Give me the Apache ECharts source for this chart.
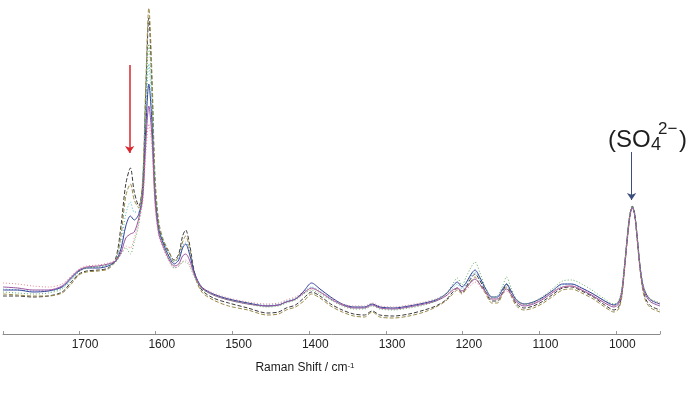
<!DOCTYPE html>
<html>
<head>
<meta charset="utf-8">
<style>
  html, body { margin:0; padding:0; background:#ffffff; }
  #raman-chart { width:700px; height:398px; }
</style>
</head>
<body>
<div id="raman-chart"></div>
<script src="https://cdn.jsdelivr.net/npm/echarts@6/dist/echarts.min.js"></script>
<script>
    // Raman shift (cm-1) sampled along the spectrum
    var wavenumbers = [1799, 1780, 1760, 1740, 1722, 1710, 1700, 1690, 1675, 1662,
        1652, 1645, 1639, 1633, 1628, 1622, 1617, 1613, 1609, 1605,
        1601, 1596, 1590, 1583, 1576, 1570, 1565, 1561, 1556, 1549,
        1540, 1525, 1505, 1480, 1455, 1440, 1430, 1418, 1407, 1397,
        1386, 1372, 1357, 1342, 1328, 1318, 1308, 1290, 1270, 1250,
        1235, 1222, 1213, 1207, 1201, 1195, 1189, 1184, 1178, 1170,
        1162, 1155, 1148, 1143, 1137, 1130, 1120, 1108, 1095, 1082,
        1070, 1058, 1045, 1030, 1015, 1003, 997, 993, 989, 985,
        982, 979, 976, 973, 969, 965, 961, 955, 943];

    // intensities (arbitrary units) of the overlaid spectra
    var spec1 = [38, 38, 37, 38, 42, 52, 60, 63, 64, 66,
        76, 110, 150, 166, 142, 128, 150, 240, 316, 250,
        150, 108, 92, 82, 74, 80, 98, 104, 90, 60,
        44, 36, 31, 26, 21, 22, 26, 29, 36, 42,
        38, 30, 24, 20, 19, 23, 19, 18, 20, 24,
        28, 34, 42, 46, 41, 48, 56, 60, 54, 42,
        33, 33, 42, 50, 40, 30, 26, 28, 33, 40,
        46, 47, 43, 37, 29, 24, 27, 38, 68, 100,
        120, 128, 120, 98, 66, 44, 34, 28, 24];
    var spec2 = [40, 39, 38, 38, 41, 50, 59, 62, 63, 65,
        74, 100, 138, 150, 134, 126, 155, 250, 326, 262,
        160, 112, 94, 83, 72, 78, 92, 98, 86, 58,
        42, 34, 28, 24, 19, 20, 24, 27, 33, 40,
        36, 28, 22, 18, 17, 22, 17, 16, 18, 22,
        27, 33, 40, 44, 40, 46, 53, 57, 50, 40,
        31, 31, 40, 47, 38, 28, 24, 26, 31, 38,
        44, 45, 41, 35, 27, 22, 25, 36, 66, 98,
        118, 127, 119, 96, 64, 42, 32, 26, 22];
    var spec3 = [45, 44, 43, 43, 46, 55, 63, 66, 67, 69,
        74, 92, 120, 132, 122, 122, 145, 215, 270, 225,
        145, 106, 92, 80, 72, 76, 88, 92, 82, 60,
        46, 40, 35, 31, 29, 30, 33, 36, 42, 47,
        43, 36, 30, 27, 27, 30, 27, 26, 28, 31,
        35, 40, 46, 50, 45, 50, 58, 62, 55, 44,
        36, 36, 44, 50, 42, 33, 29, 31, 36, 43,
        49, 50, 46, 40, 33, 29, 31, 42, 70, 102,
        121, 127, 120, 99, 67, 47, 38, 33, 30];
    var spec4 = [44, 44, 42, 43, 47, 56, 63, 66, 66, 68,
        73, 86, 108, 118, 114, 120, 140, 205, 250, 212,
        140, 104, 90, 78, 70, 74, 86, 90, 80, 60,
        47, 40, 35, 31, 28, 29, 32, 35, 43, 51,
        45, 37, 30, 27, 27, 30, 27, 26, 28, 31,
        34, 40, 48, 52, 47, 52, 60, 64, 57, 45,
        37, 37, 45, 50, 43, 34, 30, 32, 37, 44,
        50, 50, 46, 40, 33, 29, 32, 42, 70, 102,
        120, 127, 120, 100, 68, 48, 40, 34, 30];
    var spec5 = [47, 46, 44, 44, 48, 57, 64, 67, 68, 70,
        73, 82, 96, 100, 102, 116, 136, 190, 228, 198,
        134, 100, 87, 75, 68, 70, 78, 80, 74, 58,
        46, 39, 34, 30, 28, 29, 32, 35, 41, 46,
        42, 35, 29, 26, 26, 29, 26, 25, 27, 30,
        33, 38, 44, 46, 43, 47, 52, 55, 50, 42,
        35, 35, 41, 45, 40, 32, 28, 30, 35, 42,
        47, 48, 44, 38, 31, 27, 30, 40, 68, 100,
        119, 126, 119, 98, 66, 46, 38, 32, 28];
    var spec6 = [51, 50, 48, 47, 50, 58, 65, 68, 69, 71,
        74, 80, 88, 86, 96, 112, 132, 180, 210, 186,
        128, 98, 85, 73, 66, 68, 72, 74, 70, 57,
        47, 41, 36, 32, 30, 31, 34, 37, 42, 45,
        42, 36, 30, 28, 28, 31, 28, 27, 29, 32,
        35, 39, 44, 45, 42, 45, 49, 52, 48, 41,
        35, 35, 40, 43, 39, 33, 29, 31, 36, 43,
        47, 48, 45, 39, 32, 28, 31, 41, 69, 101,
        120, 127, 120, 99, 67, 47, 39, 34, 31];
    var spec7 = [42, 41, 40, 41, 45, 54, 62, 66, 67, 69,
        72, 80, 86, 80, 92, 110, 150, 230, 290, 240,
        150, 106, 90, 76, 66, 68, 72, 72, 68, 56,
        45, 39, 34, 30, 27, 28, 31, 34, 40, 44,
        40, 34, 28, 25, 25, 28, 25, 24, 26, 29,
        33, 40, 50, 56, 49, 58, 67, 72, 62, 46,
        37, 38, 48, 57, 46, 35, 30, 32, 38, 46,
        53, 54, 50, 43, 35, 30, 33, 44, 72, 104,
        122, 128, 121, 100, 68, 49, 41, 35, 31];

    var spectra = [spec1, spec2, spec3, spec4, spec5, spec6, spec7];

    var lineLooks = [
        {color: '#3a3a3a', type: [4, 2]},
        {color: '#9a8a48', type: [4, 2]},
        {color: '#4cbccc', type: [1, 2]},
        {color: '#34409a', type: 'solid'},
        {color: '#9a52a0', type: 'solid'},
        {color: '#e58592', type: [1, 2]},
        {color: '#62ac62', type: [1, 2]}
    ];

    var chart = echarts.init(document.getElementById('raman-chart'));

    var seriesList = [];
    for (var i = 0; i < spectra.length; i++) {
        var pts = [];
        for (var j = 0; j < wavenumbers.length; j++) {
            pts.push([wavenumbers[j], spectra[i][j]]);
        }
        seriesList.push({
            type: 'line',
            data: pts,
            smooth: 0.3,
            showSymbol: false,
            silent: true,
            lineStyle: {color: lineLooks[i].color, type: lineLooks[i].type, width: 1}
        });
    }

    // arrows pointing at the 1634 shoulder and at the sulfate band
    function arrowSeries(x, yFrom, yTo, color, width) {
        return {
            type: 'line',
            data: [],
            silent: true,
            markLine: {
                silent: true,
                symbol: ['none', 'arrow'],
                symbolSize: 7,
                label: {show: false},
                itemStyle: {color: color},
                lineStyle: {color: color, width: width, type: 'solid'},
                data: [[{coord: [x, yFrom]}, {coord: [x, yTo]}]]
            }
        };
    }
    seriesList.push(arrowSeries(1634, 269, 181, '#d9272d', 1.5));
    seriesList.push(arrowSeries(980, 182, 134, '#3d4f7c', 1));

    var option = {
        animation: false,
        backgroundColor: '#ffffff',
        grid: {left: 0, right: 40, top: 0, bottom: 64},
        xAxis: {
            type: 'value',
            inverse: true,
            min: 943,
            max: 1799,
            splitNumber: 9,
            minInterval: 100,
            maxInterval: 100,
            name: 'Raman Shift / cm{sup|-1}',
            nameLocation: 'middle',
            nameGap: 28,
            nameTextStyle: {
                color: '#1a1a1a',
                fontSize: 12,
                fontFamily: '"Liberation Sans", Arial, sans-serif',
                padding: [0, 53, 0, 0],
                rich: {
                    sup: {fontSize: 8, verticalAlign: 'top', color: '#1a1a1a',
                          fontFamily: '"Liberation Sans", Arial, sans-serif'}
                }
            },
            axisLine: {lineStyle: {color: '#8a8a8a', width: 1}},
            axisTick: {inside: true, length: 3, lineStyle: {color: '#9a9a9a'}},
            splitLine: {show: false},
            axisLabel: {
                color: '#222222',
                fontSize: 12,
                fontFamily: '"Liberation Sans", Arial, sans-serif',
                margin: 5,
                padding: [0, 0, 0, 12],
                formatter: function (v) { return v % 100 === 0 ? String(v) : ''; }
            }
        },
        yAxis: {
            type: 'value',
            min: 0,
            max: 334,
            show: false
        },
        series: seriesList,
        graphic: [
            {type: 'text', x: 608, y: 140,
             style: {text: '(SO', fontSize: 24, fontFamily: '"Liberation Sans", Arial, sans-serif',
                     fill: '#1e1e1e', textAlign: 'left', textVerticalAlign: 'middle', align: 'left', verticalAlign: 'middle'}},
            {type: 'text', x: 651, y: 145,
             style: {text: '4', fontSize: 18, fontFamily: '"Liberation Sans", Arial, sans-serif',
                     fill: '#1e1e1e', textAlign: 'left', textVerticalAlign: 'middle', align: 'left', verticalAlign: 'middle'}},
            {type: 'text', x: 658, y: 129,
             style: {text: '2\u2212', fontSize: 17, fontFamily: '"Liberation Sans", Arial, sans-serif',
                     fill: '#1e1e1e', textAlign: 'left', textVerticalAlign: 'middle', align: 'left', verticalAlign: 'middle'}},
            {type: 'text', x: 679, y: 140,
             style: {text: ')', fontSize: 24, fontFamily: '"Liberation Sans", Arial, sans-serif',
                     fill: '#1e1e1e', textAlign: 'left', textVerticalAlign: 'middle', align: 'left', verticalAlign: 'middle'}}
        ]
    };

    chart.setOption(option);
</script>
</body>
</html>
